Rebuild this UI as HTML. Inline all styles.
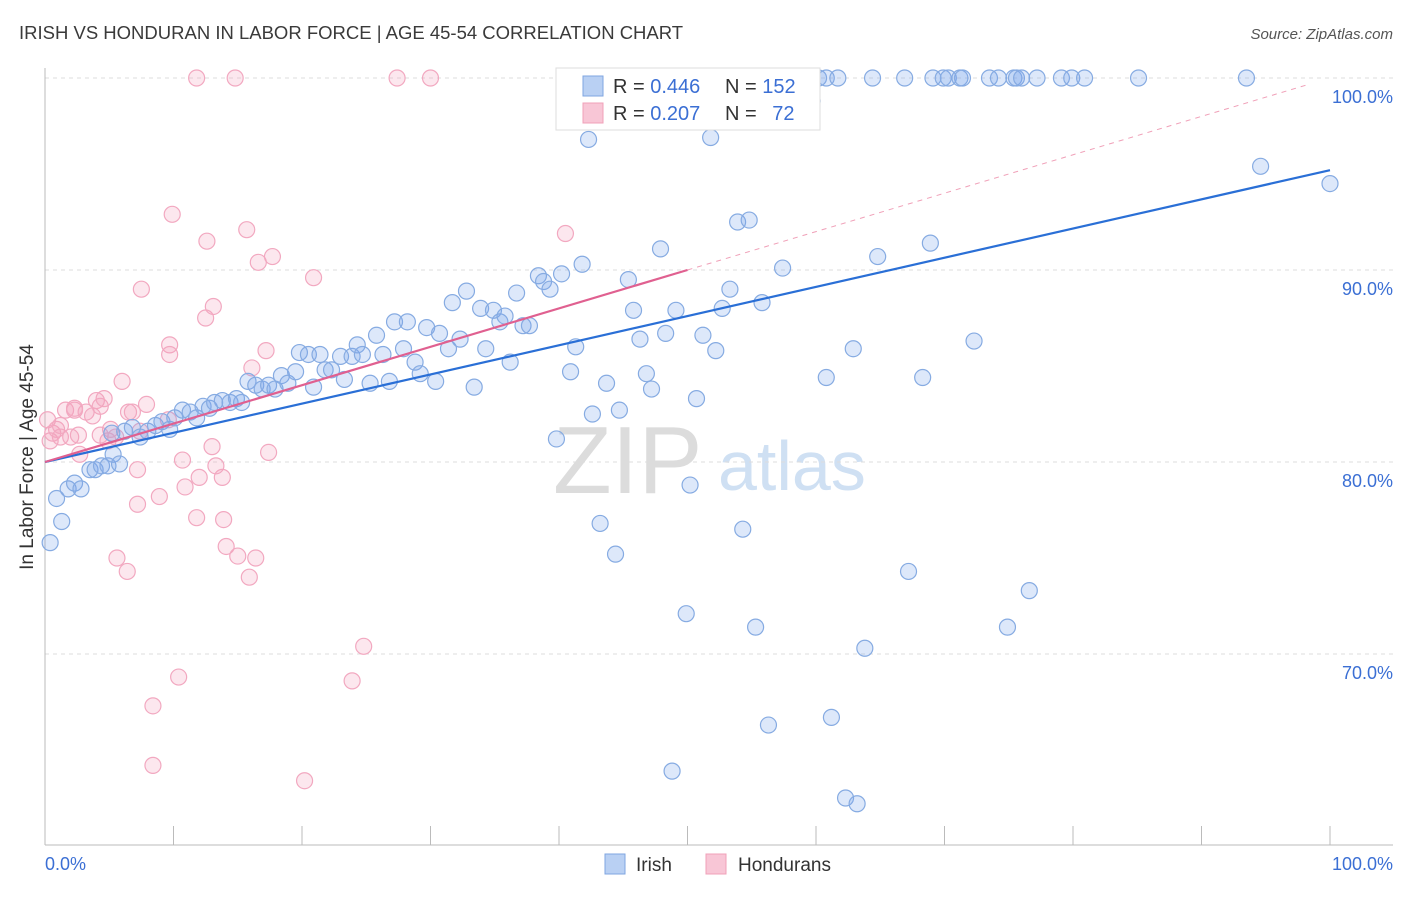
<!DOCTYPE html>
<html><head><meta charset="utf-8"><style>
body{margin:0;background:#fff;font-family:"Liberation Sans",sans-serif;}
svg text{font-family:"Liberation Sans",sans-serif;}
</style></head><body>
<svg id="chart" width="1406" height="892" xmlns="http://www.w3.org/2000/svg">
<text x="19" y="39" font-size="18.5" fill="#3a3a3a">IRISH VS HONDURAN IN LABOR FORCE | AGE 45-54 CORRELATION CHART</text>
<text x="1393" y="39" font-size="15" fill="#555" font-style="italic" text-anchor="end">Source: ZipAtlas.com</text>
<g>
<text x="553" y="493" font-size="96" fill="#dcdcdc" font-family="Liberation Serif">ZIP</text>
<text x="718" y="490" font-size="70" fill="#cfe0f3">atlas</text>
</g>
<g id="grid"></g>
<g id="axes"></g>
<g id="marks"></g>
<g id="trends"></g>
<g>
<rect x="556" y="68" width="264" height="62" fill="#fff" stroke="#ddd"/>
<rect x="583" y="76" width="20" height="20" fill="#b9d0f3" stroke="#7fa6e0"/>
<text x="613" y="93" font-size="20" fill="#333">R = <tspan fill="#3b6fd4">0.446</tspan></text>
<text x="725" y="93" font-size="20" fill="#333">N = <tspan fill="#3b6fd4">152</tspan></text>
<rect x="583" y="103" width="20" height="20" fill="#f8c6d6" stroke="#f0a0b8"/>
<text x="613" y="120" font-size="20" fill="#333">R = <tspan fill="#3b6fd4">0.207</tspan></text>
<text x="725" y="120" font-size="20" fill="#333">N = <tspan fill="#3b6fd4" dx="10">72</tspan></text>
</g>
<g>
<rect x="605" y="854" width="20" height="20" fill="#b9d0f3" stroke="#7fa6e0"/>
<text x="636" y="871" font-size="19" fill="#333">Irish</text>
<rect x="706" y="854" width="20" height="20" fill="#f8c6d6" stroke="#f0a0b8"/>
<text x="738" y="871" font-size="19" fill="#333">Hondurans</text>
</g>
<text x="33" y="457" font-size="19" fill="#333" transform="rotate(-90 33 457)" text-anchor="middle">In Labor Force | Age 45-54</text>
</svg>
<script>
const yTicks=[70,80,90,100];
const yTickLabels=["70.0%","80.0%","90.0%","100.0%"];
const xTicks=[0,10,20,30,40,50,60,70,80,90,100];
const xTickLabels=["0.0%","100.0%"];
const irishX=[0.4,0.9,1.3,1.8,2.3,2.8,3.5,3.9,4.4,4.9,5.3,5.8,5.2,6.2,6.8,7.4,8.0,8.6,9.1,9.7,10.1,10.7,11.3,11.8,12.3,12.8,13.2,13.8,14.4,14.9,15.3,15.8,16.4,16.9,17.4,17.9,18.4,18.9,19.5,19.8,20.5,20.9,21.4,21.8,22.3,23.0,23.3,23.9,24.3,24.7,25.3,25.8,26.3,26.8,27.2,27.9,28.2,28.8,29.2,29.7,30.4,30.7,31.4,31.7,32.3,32.8,33.4,33.9,34.3,34.9,35.4,35.8,36.2,36.7,37.2,37.7,38.4,38.8,39.3,39.8,40.2,40.9,41.3,41.8,42.3,42.6,43.2,43.7,44.4,44.7,45.4,45.8,46.3,46.8,47.2,47.9,48.3,49.1,49.9,50.2,48.8,50.7,51.2,51.8,52.2,52.7,53.3,53.9,54.3,54.8,55.3,55.8,56.3,57.4,59.7,60.8,61.2,62.3,62.9,63.2,63.8,64.8,67.2,68.3,68.9,72.3,74.9,76.6,94.6,100,56.8,58.5,59.0,60.2,60.8,61.7,64.4,66.9,69.1,69.9,70.3,71.2,71.4,73.5,74.2,75.4,75.6,76.0,77.2,79.1,79.9,80.9,85.1,93.5];
const irishY=[75.8,78.1,76.9,78.6,78.9,78.6,79.6,79.6,79.8,79.8,80.4,79.9,81.5,81.6,81.8,81.3,81.6,81.9,82.1,81.7,82.3,82.7,82.6,82.3,82.9,82.8,83.1,83.2,83.1,83.3,83.1,84.2,84.0,83.8,84.0,83.8,84.5,84.1,84.7,85.7,85.6,83.9,85.6,84.8,84.8,85.5,84.3,85.5,86.1,85.6,84.1,86.6,85.6,84.2,87.3,85.9,87.3,85.2,84.6,87.0,84.2,86.7,85.9,88.3,86.4,88.9,83.9,88.0,85.9,87.9,87.3,87.6,85.2,88.8,87.1,87.1,89.7,89.4,89.0,81.2,89.8,84.7,86.0,90.3,96.8,82.5,76.8,84.1,75.2,82.7,89.5,87.9,86.4,84.6,83.8,91.1,86.7,87.9,72.1,78.8,63.9,83.3,86.6,96.9,85.8,88.0,89.0,92.5,76.5,92.6,71.4,88.3,66.3,90.1,98.8,84.4,66.7,62.5,85.9,62.2,70.3,90.7,74.3,84.4,91.4,86.3,71.4,73.3,95.4,94.5,100,100,100,100,100,100,100,100,100,100,100,100,100,100,100,100,100,100,100,100,100,100,100,100];
const hondX=[0.2,0.4,0.6,0.9,1.2,1.6,2.0,2.3,2.6,2.7,3.2,3.7,4.0,4.3,4.6,4.9,5.1,5.5,6.0,6.5,6.8,7.2,7.4,7.5,7.9,7.2,5.6,6.4,8.4,8.4,8.9,9.6,9.9,10.4,10.7,10.9,11.8,11.8,12.0,12.6,13.1,12.5,13.0,13.3,13.8,13.9,14.1,14.8,15.0,15.7,15.9,16.1,16.4,16.6,17.2,17.4,17.7,20.2,20.9,23.9,24.8,27.4,30.0,40.5,9.7,9.7,2.3,1.2,4.3];
const hondY=[82.2,81.1,81.5,81.7,81.3,82.7,81.3,82.7,81.4,80.4,82.6,82.4,83.2,82.9,83.3,81.1,81.7,81.3,84.2,82.6,82.6,79.6,81.6,89.0,83.0,77.8,75.0,74.3,67.3,64.2,78.2,82.2,92.9,68.8,80.1,78.7,77.1,100,79.2,91.5,88.1,87.5,80.8,79.8,79.2,77.0,75.6,100,75.1,92.1,74.0,84.9,75.0,90.4,85.8,80.5,90.7,63.4,89.6,68.6,70.4,100,100,91.9,86.1,85.6,82.8,81.9,81.4];
const irishTrend=[80.0,95.2];
const hondTrend=[80.0,90.0];
const NS='http://www.w3.org/2000/svg';
const X=v=>45+v*12.85;
const Y=v=>78+(100-v)*19.2;
function mk(tag,attrs,parent){const e=document.createElementNS(NS,tag);for(const k in attrs)e.setAttribute(k,attrs[k]);document.getElementById(parent).appendChild(e);return e;}
yTicks.forEach((t,i)=>{
 let l=mk('line',{x1:45,x2:1393,y1:Y(t),y2:Y(t),stroke:'#ddd','stroke-dasharray':'4,4'},'grid');
 
 
 let tx=mk('text',{x:1393,y:Y(t)+25,'font-size':18,fill:'#3b6fd4','text-anchor':'end'},'grid');
 tx.textContent=yTickLabels[i];
 
 
});
let ax=mk('line',{x1:45,x2:45,y1:68,y2:845,stroke:'#bbb'},'axes');


let bx=mk('line',{x1:45,x2:1393,y1:845,y2:845,stroke:'#bbb'},'axes');


xTicks.forEach(t=>{
 let l=mk('line',{x1:X(t),x2:X(t),y1:826,y2:845,stroke:'#bbb'},'axes');
 
 
});
let xl0=mk('text',{x:45,y:870,'font-size':18,fill:'#3b6fd4'},'axes');xl0.textContent=xTickLabels[0];


let xl1=mk('text',{x:1393,y:870,'font-size':18,fill:'#3b6fd4','text-anchor':'end'},'axes');xl1.textContent=xTickLabels[1];


hondX.forEach((v,i)=>{
 let c=mk('circle',{cx:X(v),cy:Y(hondY[i]),r:8,fill:'rgba(244,160,188,0.25)',stroke:'#f2a8c0','stroke-width':1.2},'marks');
 
 
});
irishX.forEach((v,i)=>{
 let c=mk('circle',{cx:X(v),cy:Y(irishY[i]),r:8,fill:'rgba(120,165,235,0.25)',stroke:'#86abe2','stroke-width':1.2},'marks');
 
 
});
let bt=mk('line',{x1:X(0),y1:Y(irishTrend[0]),x2:X(100),y2:Y(irishTrend[1]),stroke:'#2a6fd6','stroke-width':2.2},'trends');


const slope=(hondTrend[1]-hondTrend[0])/50;
let pd=mk('line',{x1:X(50),y1:Y(hondTrend[1]),x2:X(98.4),y2:Y(hondTrend[0]+slope*98.4),stroke:'#f0a0b8','stroke-width':1,'stroke-dasharray':'5,5'},'trends');


let pt=mk('line',{x1:X(0),y1:Y(hondTrend[0]),x2:X(50),y2:Y(hondTrend[1]),stroke:'#e06090','stroke-width':2.2},'trends');


</script>
</body></html>
